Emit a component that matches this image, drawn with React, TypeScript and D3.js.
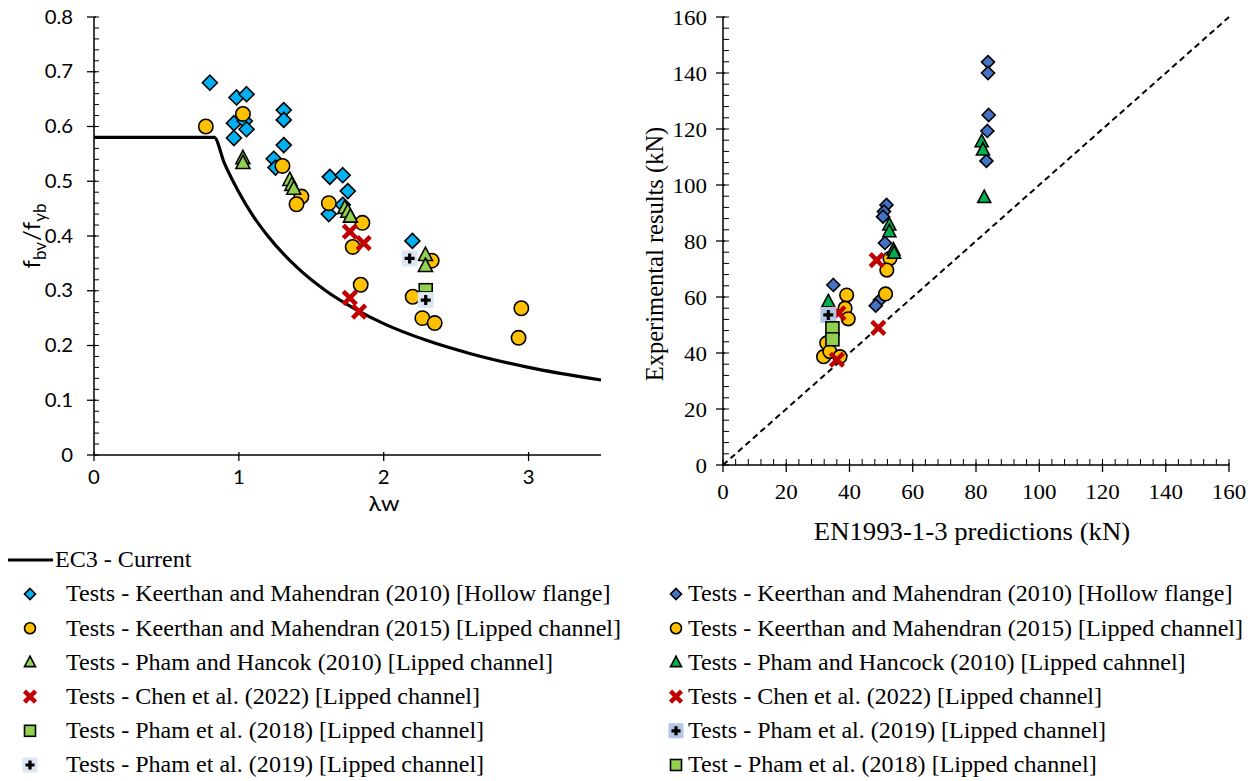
import React from "react";
import * as d3 from "d3";

// ---------- Left chart data (λw, fbv/fyb) ----------
const ec3Lambda = [0, 0.83, 0.9, 1.0, 1.1, 1.2, 1.4, 1.6, 1.8, 2.0, 2.3, 2.6, 3.0, 3.5];
const ec3Ratio = [0.58, 0.58, 0.533, 0.48, 0.436, 0.4, 0.343, 0.3, 0.267, 0.24, 0.209, 0.185, 0.16, 0.137];

const km2010L: [number, number][] = [
  [0.8, 0.68], [0.984, 0.653], [1.053, 0.659], [0.966, 0.606], [1.041, 0.61], [1.053, 0.595],
  [0.966, 0.579], [1.31, 0.63], [1.31, 0.612], [1.31, 0.566], [1.241, 0.541], [1.253, 0.525],
  [1.628, 0.508], [1.717, 0.511], [1.752, 0.482], [1.621, 0.44], [1.717, 0.457], [2.198, 0.391],
];
const km2015L: [number, number][] = [
  [0.772, 0.6], [1.028, 0.623], [1.301, 0.528], [1.432, 0.472], [1.398, 0.458], [1.621, 0.46],
  [1.853, 0.424], [1.786, 0.38], [1.841, 0.311], [2.331, 0.355], [2.2, 0.289], [2.267, 0.25],
  [2.352, 0.241], [2.95, 0.268], [2.931, 0.214],
];
const ph2010L: [number, number][] = [
  [1.028, 0.542], [1.028, 0.533], [1.352, 0.502], [1.366, 0.493], [1.379, 0.486],
  [1.731, 0.451], [1.752, 0.444], [1.77, 0.435], [2.288, 0.365], [2.288, 0.345],
];
const chen2022L: [number, number][] = [[1.766, 0.408], [1.862, 0.387], [1.766, 0.287], [1.83, 0.262]];
const pham2018L: [number, number][] = [[2.29, 0.301], [2.29, 0.286]];
const pham2019L: [number, number][] = [[2.179, 0.359], [2.29, 0.283]];

const leftYTicks = [0, 0.1, 0.2, 0.3, 0.4, 0.5, 0.6, 0.7, 0.8];
const leftXTicks = [0, 1, 2, 3];

// ---------- Right chart data (prediction kN, experiment kN) ----------
const km2010R: [number, number][] = [
  [83.8, 143.9], [83.8, 140], [84, 125], [83.6, 119.3], [83.3, 108.6],
  [51.7, 92.9], [50.9, 90.5], [50.6, 88.7], [51.2, 79.3], [49.6, 58.9], [48.3, 56.9], [34.9, 64.3],
];
const km2015R: [number, number][] = [
  [52.8, 73.8], [51.8, 69.6], [51.4, 61.1], [39.1, 60.7], [38.6, 56.0], [39.6, 52.2],
  [32.8, 43.6], [31.8, 38.7], [33.8, 40.5], [37.0, 38.7],
];
const ph2010R: [number, number][] = [
  [81.8, 115.4], [82.2, 112.5], [82.6, 95.5], [52.6, 85.7], [52.6, 83.3], [53.9, 76.8],
  [54.1, 75.6], [33.3, 58.3],
];
const chen2022R: [number, number][] = [[48.6, 73.2], [49.1, 49.0], [36.5, 54.2], [36.0, 37.6]];
const pham2019R: [number, number][] = [[33.3, 53.6]];
const pham2018R: [number, number][] = [[34.6, 48.8], [34.6, 44.9]];

const rightTicks = [0, 20, 40, 60, 80, 100, 120, 140, 160];
const oneToOne = [0, 160];

const legendLeft = [
  "Tests - Keerthan and Mahendran (2010) [Hollow flange]",
  "Tests - Keerthan and Mahendran (2015) [Lipped channel]",
  "Tests - Pham and Hancok (2010) [Lipped channel]",
  "Tests - Chen et al. (2022) [Lipped channel]",
  "Tests - Pham et al. (2018) [Lipped channel]",
  "Tests - Pham et al. (2019) [Lipped channel]",
];
const legendRight = [
  "Tests - Keerthan and Mahendran (2010) [Hollow flange]",
  "Tests - Keerthan and Mahendran (2015) [Lipped channel]",
  "Tests - Pham and Hancock (2010) [Lipped cahnnel]",
  "Tests - Chen et al. (2022) [Lipped channel]",
  "Tests - Pham et al. (2019) [Lipped channel]",
  "Test - Pham et al. (2018) [Lipped channel]",
];

type Kind = "diamond" | "circle" | "triangle" | "cross" | "square" | "plus";

function Marker({ kind, x, y, fill, s, bg }: { kind: Kind; x: number; y: number; fill: string; s: number; bg?: string }) {
  const sw = 1.6;
  switch (kind) {
    case "diamond":
      return <path d={`M${x},${y - s}L${x + s},${y}L${x},${y + s}L${x - s},${y}Z`} fill={fill} stroke="#000" strokeWidth={sw} />;
    case "circle":
      return <circle cx={x} cy={y} r={s} fill={fill} stroke="#000" strokeWidth={sw} />;
    case "triangle": {
      const h = s * 1.9;
      return <path d={`M${x},${y - h * 0.6}L${x + s},${y + h * 0.4}L${x - s},${y + h * 0.4}Z`} fill={fill} stroke="#000" strokeWidth={sw} />;
    }
    case "square":
      return <rect x={x - s} y={y - s} width={2 * s} height={2 * s} fill={fill} stroke="#000" strokeWidth={sw} />;
    case "cross":
      return <path d={`M${x - s},${y - s}L${x + s},${y + s}M${x + s},${y - s}L${x - s},${y + s}`} stroke={fill} strokeWidth={4.5} />;
    case "plus":
      return (
        <g>
          <rect x={x - s - 2} y={y - s - 2} width={2 * s + 4} height={2 * s + 4} fill={bg || "#dce6f2"} />
          <path d={`M${x - s + 1},${y}L${x + s - 1},${y}M${x},${y - s + 1}L${x},${y + s - 1}`} stroke="#000" strokeWidth={3.2} />
        </g>
      );
  }
  return null;
}

const SX = 1.07; // the reference text is slightly wider than tall

function T({ x, y, children, anchor = "start", size, family, dy, rotate }: any) {
  const tr = rotate ? `translate(${x},${y}) rotate(${rotate})` : `translate(${x},${y}) scale(${SX},1)`;
  return (
    <text transform={tr} textAnchor={anchor} fontSize={size} fontFamily={family} dy={dy} fill="#000">
      {children}
    </text>
  );
}

export default function App() {
  const xL = d3.scaleLinear().domain([0, 3.5]).range([94, 601]);
  const yL = d3.scaleLinear().domain([0, 0.8]).range([455, 17]);
  const xR = d3.scaleLinear().domain([0, 160]).range([723, 1229]);
  const yR = d3.scaleLinear().domain([0, 160]).range([465, 17]);

  const line = d3
    .line<number>()
    .x((_, i) => xL(ec3Lambda[i]))
    .y((d) => yL(d))
    .curve(d3.curveMonotoneX);

  const sans = "Lato, 'Noto Sans', sans-serif";
  const serif = "'Liberation Serif', 'Times New Roman', serif";

  const leftMinorY = d3.range(0, 0.8001, 0.02);
  const rightMinor = d3.range(0, 160.01, 4);

  const leftSeries: { data: [number, number][]; kind: Kind; fill: string; s: number }[] = [
    { data: km2010L, kind: "diamond", fill: "#00B0F0", s: 7.5 },
    { data: km2015L, kind: "circle", fill: "#FFC000", s: 7.2 },
    { data: ph2010L, kind: "triangle", fill: "#92D050", s: 7 },
    { data: chen2022L, kind: "cross", fill: "#C00000", s: 6.5 },
    { data: pham2018L, kind: "square", fill: "#92D050", s: 6.5 },
    { data: pham2019L, kind: "plus", fill: "#000", s: 6 },
  ];
  const rightSeries: { data: [number, number][]; kind: Kind; fill: string; s: number; bg?: string }[] = [
    { data: km2010R, kind: "diamond", fill: "#4472C4", s: 6.5 },
    { data: km2015R, kind: "circle", fill: "#FFC000", s: 6.8 },
    { data: ph2010R, kind: "triangle", fill: "#00B050", s: 6.5 },
    { data: chen2022R, kind: "cross", fill: "#C00000", s: 6.5 },
    { data: pham2019R, kind: "plus", fill: "#000", s: 6, bg: "#B4C7E7" },
    { data: pham2018R, kind: "square", fill: "#92D050", s: 6.5 },
  ];
  const leftLegendKinds: { kind: Kind; fill: string; bg?: string }[] = [
    { kind: "diamond", fill: "#00B0F0" },
    { kind: "circle", fill: "#FFC000" },
    { kind: "triangle", fill: "#92D050" },
    { kind: "cross", fill: "#C00000" },
    { kind: "square", fill: "#92D050" },
    { kind: "plus", fill: "#000", bg: "#dce6f2" },
  ];
  const rightLegendKinds: { kind: Kind; fill: string; bg?: string }[] = [
    { kind: "diamond", fill: "#4472C4" },
    { kind: "circle", fill: "#FFC000" },
    { kind: "triangle", fill: "#00B050" },
    { kind: "cross", fill: "#C00000" },
    { kind: "plus", fill: "#000", bg: "#B4C7E7" },
    { kind: "square", fill: "#92D050" },
  ];
  const rowY = (i: number) => 594 + i * 34.2;
  const legSize = 22.5;

  return (
    <svg width={1260} height={781} style={{ position: "absolute", left: 0, top: 0, background: "#fff" }}>
      {/* ---------- Left chart ---------- */}
      <g>
        <line x1={xL(0)} y1={yL(0)} x2={xL(3.5)} y2={yL(0)} stroke="#000" strokeWidth={1.5} />
        <line x1={xL(0)} y1={yL(0)} x2={xL(0)} y2={yL(0.8)} stroke="#000" strokeWidth={1.5} />
        {leftMinorY.map((v, i) => (
          <line key={"lm" + i} x1={xL(0)} x2={xL(0) + 5} y1={yL(v)} y2={yL(v)} stroke="#000" strokeWidth={1} />
        ))}
        {leftYTicks.map((v) => (
          <g key={"ly" + v}>
            <line x1={xL(0) - 7} x2={xL(0) + 2} y1={yL(v)} y2={yL(v)} stroke="#000" strokeWidth={1.3} />
            <T x={xL(0) - 21} y={yL(v)} dy="0.35em" anchor="end" family={sans} size={19}>
              {v === 0 ? "0" : v.toFixed(1)}
            </T>
          </g>
        ))}
        {leftXTicks.map((v) => (
          <g key={"lx" + v}>
            <line x1={xL(v)} x2={xL(v)} y1={yL(0) - 3} y2={yL(0) + 6} stroke="#000" strokeWidth={1.3} />
            <T x={xL(v)} y={yL(0) + 29} anchor="middle" family={sans} size={19}>
              {v}
            </T>
          </g>
        ))}
        <T x={384} y={511} anchor="middle" family={sans} size={22}>λw</T>
        <text transform="translate(40,236) rotate(-90)" textAnchor="middle" fontFamily={sans} fontSize={24} fill="#000">
          f<tspan fontSize={17} dy={6}>bv</tspan>
          <tspan dy={-6} dx={1}>/f</tspan>
          <tspan fontSize={17} dy={6}>yb</tspan>
        </text>
        <path d={line(ec3Ratio) || ""} fill="none" stroke="#000" strokeWidth={3.2} />
        {leftSeries.map((s, si) => (
          <g key={"ls" + si}>
            {s.data.map((d, i) => (
              <Marker key={i} kind={s.kind} x={xL(d[0])} y={yL(d[1])} fill={s.fill} s={s.s} />
            ))}
          </g>
        ))}
      </g>

      {/* ---------- Right chart ---------- */}
      <g>
        <line x1={xR(0)} y1={yR(0)} x2={xR(160)} y2={yR(0)} stroke="#000" strokeWidth={1.5} />
        <line x1={xR(0)} y1={yR(0)} x2={xR(0)} y2={yR(160)} stroke="#000" strokeWidth={1.5} />
        {rightMinor.map((v, i) => (
          <g key={"rm" + i}>
            <line x1={xR(0)} x2={xR(0) + 6} y1={yR(v)} y2={yR(v)} stroke="#000" strokeWidth={1} />
            <line x1={xR(v)} x2={xR(v)} y1={yR(0)} y2={yR(0) - 6} stroke="#000" strokeWidth={1} />
          </g>
        ))}
        {rightTicks.map((v) => (
          <g key={"rt" + v}>
            <line x1={xR(0) - 7} x2={xR(0) + 2} y1={yR(v)} y2={yR(v)} stroke="#000" strokeWidth={1.3} />
            <T x={xR(0) - 16} y={yR(v)} dy="0.35em" anchor="end" family={serif} size={21.5}>
              {v}
            </T>
            <line x1={xR(v)} x2={xR(v)} y1={yR(0) - 2} y2={yR(0) + 7} stroke="#000" strokeWidth={1.3} />
            <T x={xR(v)} y={yR(0) + 34} anchor="middle" family={serif} size={21.5}>
              {v}
            </T>
          </g>
        ))}
        <T x={972} y={540} anchor="middle" family={serif} size={25}>
          EN1993-1-3 predictions (kN)
        </T>
        <T x={663} y={254} rotate={-90} anchor="middle" family={serif} size={24.5}>
          Experimental results (kN)
        </T>
        <line x1={xR(oneToOne[0])} y1={yR(oneToOne[0])} x2={xR(oneToOne[1])} y2={yR(oneToOne[1])} stroke="#000" strokeWidth={2} strokeDasharray="6,4" />
        {rightSeries.map((s, si) => (
          <g key={"rs" + si}>
            {s.data.map((d, i) => (
              <Marker key={i} kind={s.kind} x={xR(d[0])} y={yR(d[1])} fill={s.fill} s={s.s} bg={s.bg} />
            ))}
          </g>
        ))}
      </g>

      {/* ---------- Legends ---------- */}
      <g>
        <line x1={8} x2={53} y1={560} y2={560} stroke="#000" strokeWidth={3.2} />
        <T x={55} y={560} dy="0.33em" family={serif} size={legSize}>EC3 - Current</T>
        {legendLeft.map((t, i) => (
          <g key={"ll" + i}>
            <Marker kind={leftLegendKinds[i].kind} x={30} y={rowY(i)} fill={leftLegendKinds[i].fill} s={5.5} bg={leftLegendKinds[i].bg} />
            <T x={66} y={rowY(i)} dy="0.33em" family={serif} size={legSize}>{t}</T>
          </g>
        ))}
        {legendRight.map((t, i) => (
          <g key={"rl" + i}>
            <Marker kind={rightLegendKinds[i].kind} x={676} y={rowY(i)} fill={rightLegendKinds[i].fill} s={5.5} bg={rightLegendKinds[i].bg} />
            <T x={688} y={rowY(i)} dy="0.33em" family={serif} size={legSize}>{t}</T>
          </g>
        ))}
      </g>
    </svg>
  );
}
